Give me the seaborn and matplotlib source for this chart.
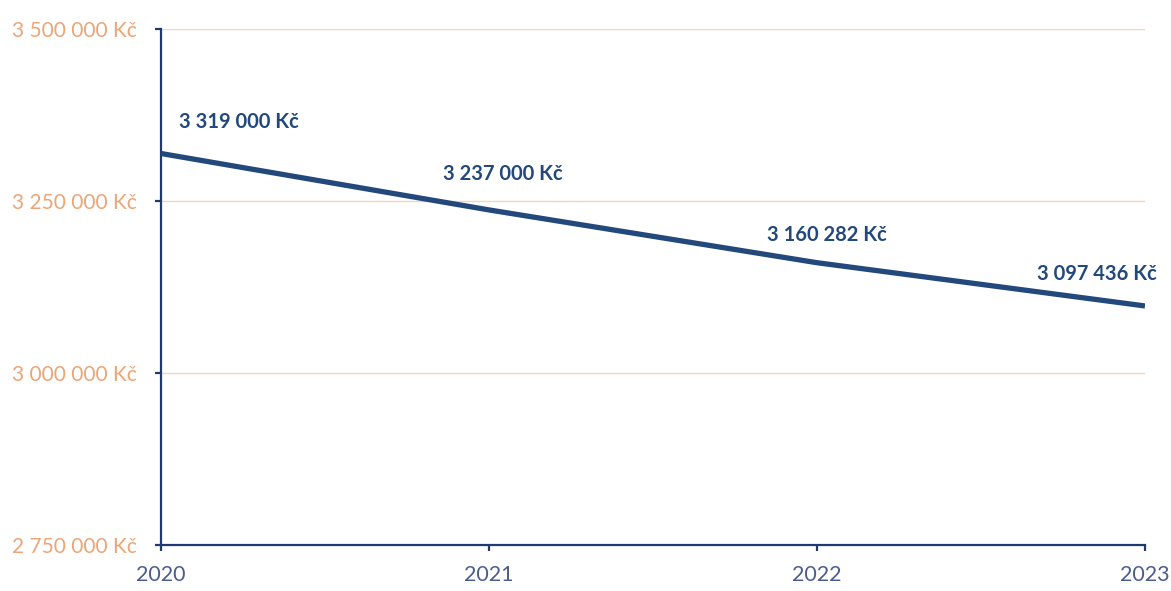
import numpy as np
import pandas as pd
import matplotlib
matplotlib.use("Agg")
import matplotlib.pyplot as plt
import seaborn as sns

years = [2020, 2021, 2022, 2023]
values = [3319000, 3237000, 3160282, 3097436]
labels = ["3 319 000 Kč", "3 237 000 Kč", "3 160 282 Kč", "3 097 436 Kč"]
yticks = [2750000, 3000000, 3250000, 3500000]

navy = "#22487c"
axis_col = "#1f3a70"
orange = "#eba577"
xlab_col = "#4b5d8e"
grid_col = "#f4d4bf"

sns.set_style("white")
plt.rcParams["font.family"] = ["Lato", "DejaVu Sans"]

df = pd.DataFrame({"rok": years, "hodnota": values})

fig = plt.figure(figsize=(11.71, 5.91), dpi=100)
ax = fig.add_axes([0.1375, 0.0778, 0.8403, 0.8732])

for t in yticks[1:]:
    ax.axhline(t, color=grid_col, lw=1, zorder=0)

sns.lineplot(data=df, x="rok", y="hodnota", ax=ax, color=navy, lw=3.8,
             solid_capstyle="butt", zorder=3)

ax.set_xlim(2020, 2023)
ax.set_ylim(2750000, 3500000)
ax.set_xticks(years)
ax.set_xticklabels([str(y) for y in years])
ax.set_yticks(yticks)
ax.set_yticklabels([f"{v:,}".replace(",", " ") + " Kč" for v in yticks])
ax.set_xlabel("")
ax.set_ylabel("")

for s in ["top", "right"]:
    ax.spines[s].set_visible(False)
for s in ["left", "bottom"]:
    ax.spines[s].set_color(axis_col)
    ax.spines[s].set_linewidth(1.6)

ax.tick_params(axis="y", left=True, direction="out", length=4.5, width=1.6,
               color=axis_col, labelcolor=orange, labelsize=15, pad=13)
ax.tick_params(axis="x", bottom=True, direction="out", length=4.5, width=1.6,
               color=axis_col, labelcolor=xlab_col, labelsize=15.5, pad=10)

offsets = [(18, 22), (14, 26), (10, 18), (12, 22)]
aligns = ["left", "center", "center", "right"]
for x, y, lab, off, ha in zip(years, values, labels, offsets, aligns):
    ax.annotate(lab, (x, y), xytext=off, textcoords="offset pixels",
                ha=ha, va="bottom", color=navy, fontsize=14.5, fontweight="bold")

fig.savefig("out.png", dpi=100)
